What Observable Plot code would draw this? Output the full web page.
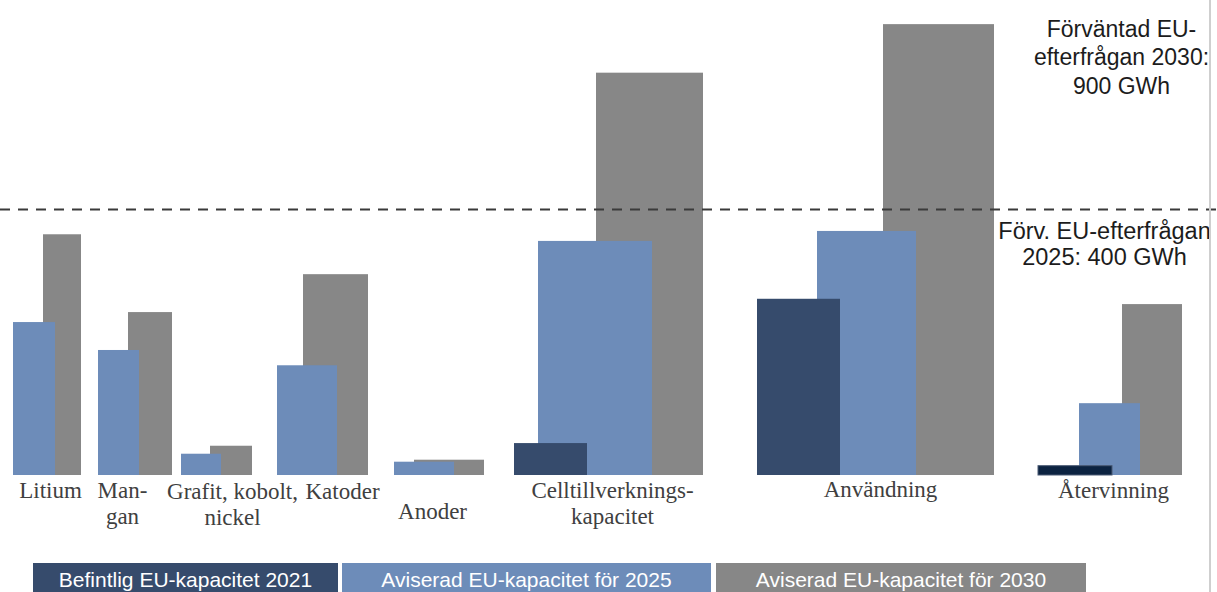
<!DOCTYPE html>
<html>
<head>
<meta charset="utf-8">
<script src="https://cdn.jsdelivr.net/npm/d3@7"></script>
<script src="https://cdn.jsdelivr.net/npm/@observablehq/plot@0.6"></script>
<style>
  html, body { margin: 0; padding: 0; background: #fff; overflow: hidden; }
  #wrap { position: relative; width: 1217px; height: 592px; }
  #edge { position: absolute; left: 1209px; top: 0; width: 2px; height: 592px; background: #cfcfcf; }
  #legend { position: absolute; left: 0; top: 563px; width: 1217px; height: 32px; }
  .key { position: absolute; top: 0; height: 32px; color: #fff;
         font: 21px "Liberation Sans", Arial, sans-serif; text-align: center; line-height: 34px; }
</style>
</head>
<body>
<div id="wrap">
  <div id="chart"></div>
  <div id="legend"></div>
  <div id="edge"></div>
</div>
<script>
// Battery value chain: EU capacity per segment (GWh)
const categories = ["Litium", "Mangan", "Grafit, kobolt, nickel", "Katoder", "Anoder",
                    "Celltillverkningskapacitet", "Användning", "Återvinning"];
const labels = ["Litium", "Man-\ngan", "Grafit, kobolt,\nnickel", "Katoder", "Anoder",
                "Celltillverknings-\nkapacitet", "Användning", "Återvinning"];
const cap2021 = [null, null, null, null, null, 48, 265, 14];
const cap2025 = [230, 188, 32, 165, 20, 352, 367, 108];
const cap2030 = [362, 245, 44, 302, 23, 605, 678, 257];
const seriesNames = ["Befintlig EU-kapacitet 2021", "Aviserad EU-kapacitet för 2025", "Aviserad EU-kapacitet för 2030"];
const demand2025 = 400;
const demand2030 = 900;

// Layout: horizontal span of each bar along the x axis, and label placement
const span2021 = [null, null, null, null, null, [514, 587], [757, 840], [1038, 1112]];
const span2025 = [[13, 55], [98, 139], [181, 221], [277, 337], [394, 454], [538, 652], [817, 916], [1079, 1140]];
const span2030 = [[43, 81], [128, 172], [210, 252], [303, 368], [414, 484], [596, 703], [883, 994], [1122, 1182]];
const labelX = [50, 122, 232, 342, 432, 612, 880, 1113];
const labelDy = [14, 27, 28, 15, 35, 27, 13, 14];
const colors = ["#364b6c", "#6d8cb9", "#878787"];
const recycleDark = "#0c2341";

function rows(values, spans, s) {
  return categories.map((c, i) => ({c, i, s, v: values[i], x1: spans[i] && spans[i][0], x2: spans[i] && spans[i][1]}))
    .filter(d => d.v != null);
}
const bars2030 = rows(cap2030, span2030, 2);
const bars2025 = rows(cap2025, span2025, 1);
const bars2021 = rows(cap2021, span2021, 0);
const labelRows = labels.map((t, i) => ({t, x: labelX[i], dy: labelDy[i]}));

const serif = "Liberation Serif, Times New Roman, serif";
const sans = "Liberation Sans, Arial, sans-serif";

const chart = Plot.plot({
  width: 1217,
  height: 555,
  margin: 0,
  x: {domain: [0, 1217], range: [0, 1217], axis: null},
  y: {domain: [0, demand2025], range: [475, 209], axis: null},
  marks: [
    // 2030 behind, 2025 over it, 2021 in front
    Plot.rectY(bars2030, {x1: "x1", x2: "x2", y1: 0, y2: "v", fill: colors[2]}),
    Plot.rectY(bars2025, {x1: "x1", x2: "x2", y1: 0, y2: "v", fill: colors[1]}),
    Plot.rectY(bars2021, {x1: "x1", x2: "x2", y1: 0, y2: "v",
      fill: d => d.c === "Återvinning" ? recycleDark : colors[0],
      stroke: d => d.c === "Återvinning" ? "#4a5a74" : "none", strokeWidth: 1}),
    // expected EU demand 2025
    Plot.ruleY([demand2025], {stroke: "#3a3a3a", strokeWidth: 2, strokeDasharray: "10,8"}),
    // category labels under the bars
    ...labelRows.map(d => Plot.text([d], {
      x: "x", y: 0, text: "t", dy: d.dy,
      fontFamily: serif, fontSize: 23, fill: "#404040", lineHeight: 1.13, lineAnchor: "middle"
    })),
    Plot.text([`Förväntad EU-\nefterfrågan 2030:\n${demand2030} GWh`], {
      x: 1121, frameAnchor: "top", dy: 56, lineAnchor: "middle", lineHeight: 1.22,
      fontFamily: sans, fontSize: 23, fill: "#1c1c1c"
    }),
    Plot.text([`Förv. EU-efterfrågan\n2025: ${demand2025} GWh`], {
      x: 1104, y: demand2025, dy: 34, lineAnchor: "middle", lineHeight: 1.11,
      fontFamily: sans, fontSize: 23.5, fill: "#1c1c1c"
    })
  ]
});
document.getElementById("chart").append(chart);

// Legend strip below the chart
const keyBoxes = [[33, 305], [342, 369], [716, 370]];
const legend = document.getElementById("legend");
seriesNames.forEach((name, i) => {
  const el = document.createElement("div");
  el.className = "key";
  el.style.left = keyBoxes[i][0] + "px";
  el.style.width = keyBoxes[i][1] + "px";
  el.style.background = colors[i];
  el.textContent = name;
  legend.append(el);
});
</script>
</body>
</html>
